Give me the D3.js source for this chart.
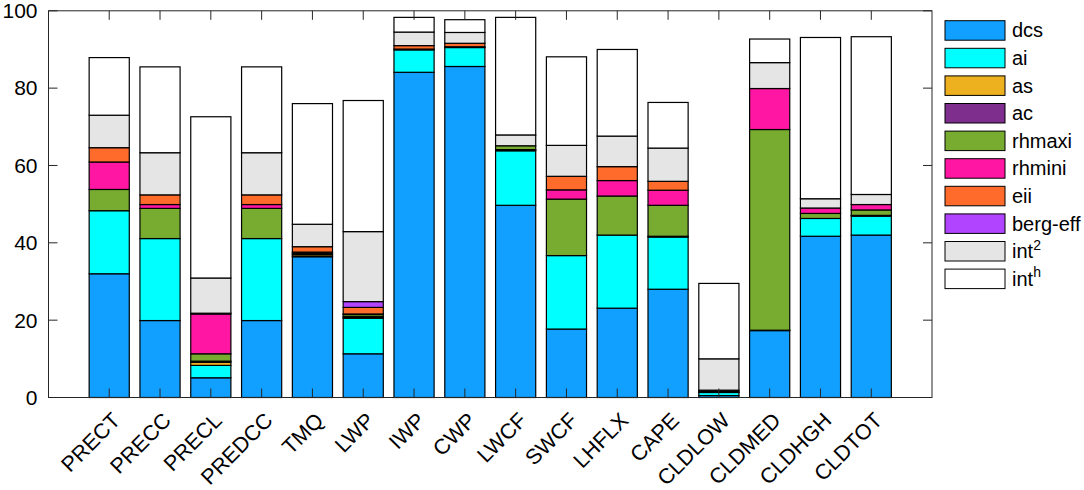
<!DOCTYPE html>
<html>
<head>
<meta charset="utf-8">
<script src="https://cdn.jsdelivr.net/npm/d3@7.9.0/dist/d3.min.js"></script>
<style>
  body { margin: 0; background: #fff; }
  text { font-family: "Liberation Sans", Arial, Helvetica, sans-serif; fill: #000; }
</style>
</head>
<body>
<svg id="chart" width="1084" height="490"></svg>
<script>
const categories = ['PRECT', 'PRECC', 'PRECL', 'PREDCC', 'TMQ', 'LWP', 'IWP', 'CWP',
  'LWCF', 'SWCF', 'LHFLX', 'CAPE', 'CLDLOW', 'CLDMED', 'CLDHGH', 'CLDTOT'];

const dcs    = [32.0, 19.9, 5.1, 19.9, 36.4, 11.3, 84.1, 85.6, 49.7, 17.7, 23.1, 28.0, 0.5, 17.3, 41.7, 42.0];
const ai     = [16.3, 21.2, 3.2, 21.2, 0.2, 9.2, 5.8, 4.9, 14.1, 19.0, 18.9, 13.5, 0.8, 0.1, 4.6, 4.9];
const as     = [0, 0, 0.8, 0, 0.4, 0.2, 0, 0, 0, 0, 0, 0, 0.1, 0, 0, 0];
const ac     = [0, 0, 0.3, 0, 0.3, 0.3, 0.2, 0.2, 0.3, 0, 0, 0.2, 0.3, 0, 0, 0.2];
const rhmaxi = [5.5, 7.8, 1.9, 7.8, 0.3, 0.5, 0, 0, 1.0, 14.6, 10.1, 8.0, 0.2, 51.9, 1.3, 1.4];
const rhmini = [7.1, 1.0, 10.3, 1.0, 0, 0.1, 0, 0, 0, 2.4, 4.0, 3.9, 0, 10.6, 1.4, 1.4];
const eii    = [3.7, 2.5, 0.2, 2.5, 1.4, 1.7, 0.9, 0.9, 0, 3.5, 3.6, 2.3, 0, 0, 0, 0];
const bergEff = [0, 0, 0, 0, 0, 1.5, 0, 0, 0, 0, 0, 0, 0, 0, 0, 0];
const int2   = [8.4, 10.9, 9.1, 10.9, 5.8, 18.1, 3.5, 2.8, 2.8, 8.0, 7.9, 8.6, 8.1, 6.7, 2.4, 2.6];
const inth   = [14.9, 22.2, 41.7, 22.2, 31.2, 33.9, 3.8, 3.3, 30.4, 22.9, 22.4, 11.8, 19.5, 6.1, 41.7, 40.8];

const yTicks = [0, 20, 40, 60, 80, 100];

// series in stacking order, label parts: [main, superscript]
const series = [
  { key: 'dcs', label: ['dcs', ''], values: dcs, color: '#11a0ff' },
  { key: 'ai', label: ['ai', ''], values: ai, color: '#00ffff' },
  { key: 'as', label: ['as', ''], values: as, color: '#edb120' },
  { key: 'ac', label: ['ac', ''], values: ac, color: '#7e2f8e' },
  { key: 'rhmaxi', label: ['rhmaxi', ''], values: rhmaxi, color: '#77ac30' },
  { key: 'rhmini', label: ['rhmini', ''], values: rhmini, color: '#ff16a2' },
  { key: 'eii', label: ['eii', ''], values: eii, color: '#ff6b2b' },
  { key: 'berg', label: ['berg-eff', ''], values: bergEff, color: '#b144ff' },
  { key: 'int2', label: ['int', '2'], values: int2, color: '#e5e5e5' },
  { key: 'inth', label: ['int', 'h'], values: inth, color: '#ffffff' }
];

const rows = categories.map((c, i) => {
  let r = { cat: c };
  series.forEach(s => r[s.key] = s.values[i]);
  return r;
});

const svg = d3.select('#chart');
const plotLeft = 48.5, plotRight = 932, plotTop = 10.8, plotBottom = 397.5;

const x = d3.scaleBand()
  .domain(categories)
  .range([plotLeft, plotRight])
  .paddingInner(0.21)
  .paddingOuter(0.8);

const y = d3.scaleLinear().domain([0, 100]).range([plotBottom, plotTop]);

const stacked = d3.stack().keys(series.map(s => s.key))(rows);

// bars
svg.append('g')
  .selectAll('g')
  .data(stacked)
  .join('g')
  .attr('fill', (d, i) => series[i].color)
  .selectAll('rect')
  .data(d => d)
  .join('rect')
  .attr('x', d => x(d.data.cat))
  .attr('width', x.bandwidth())
  .attr('y', d => y(d[1]))
  .attr('height', d => y(d[0]) - y(d[1]))
  .attr('stroke', '#000')
  .attr('stroke-width', 1.2);

// axes box + ticks (drawn over the bars)
const axisColor = '#262626';
const tl = 9;
const ax = svg.append('g').attr('stroke', axisColor).attr('stroke-width', 1);

ax.append('rect')
  .attr('x', plotLeft).attr('y', plotTop)
  .attr('width', plotRight - plotLeft).attr('height', plotBottom - plotTop)
  .attr('fill', 'none');

yTicks.forEach(t => {
  ax.append('line').attr('x1', plotLeft).attr('x2', plotLeft + tl).attr('y1', y(t)).attr('y2', y(t));
  ax.append('line').attr('x1', plotRight).attr('x2', plotRight - tl).attr('y1', y(t)).attr('y2', y(t));
});

categories.forEach(c => {
  let cx = x(c) + x.bandwidth() / 2;
  ax.append('line').attr('x1', cx).attr('x2', cx).attr('y1', plotBottom).attr('y2', plotBottom - tl);
  ax.append('line').attr('x1', cx).attr('x2', cx).attr('y1', plotTop).attr('y2', plotTop + tl);
});

// y tick labels
svg.append('g')
  .selectAll('text')
  .data(yTicks)
  .join('text')
  .attr('x', plotLeft - 11)
  .attr('y', d => y(d))
  .attr('dy', '0.35em')
  .attr('text-anchor', 'end')
  .attr('font-size', 21)
  .text(d => d);

// x tick labels, rotated
svg.append('g')
  .selectAll('text')
  .data(categories)
  .join('text')
  .attr('transform', d => `translate(${x(d) + x.bandwidth() / 2 + 7},${plotBottom + 19}) rotate(-45)`)
  .attr('dy', '0.35em')
  .attr('text-anchor', 'end')
  .attr('font-size', 21.5)
  .text(d => d);

// legend
const lg = svg.append('g');
const step = 27.6;
series.forEach((s, i) => {
  let yy = 20.7 + i * step;
  lg.append('rect')
    .attr('x', 945).attr('y', yy)
    .attr('width', 60).attr('height', 19.5)
    .attr('fill', s.color)
    .attr('stroke', '#000')
    .attr('stroke-width', 1);
  let t = lg.append('text')
    .attr('x', 1012)
    .attr('y', yy + 9.75)
    .attr('dy', '0.35em')
    .attr('font-size', 20);
  t.append('tspan').text(s.label[0]);
  if (s.label[1]) {
    t.append('tspan')
      .attr('dy', '-0.6em')
      .attr('font-size', 14)
      .text(s.label[1]);
  }
});
</script>
</body>
</html>
